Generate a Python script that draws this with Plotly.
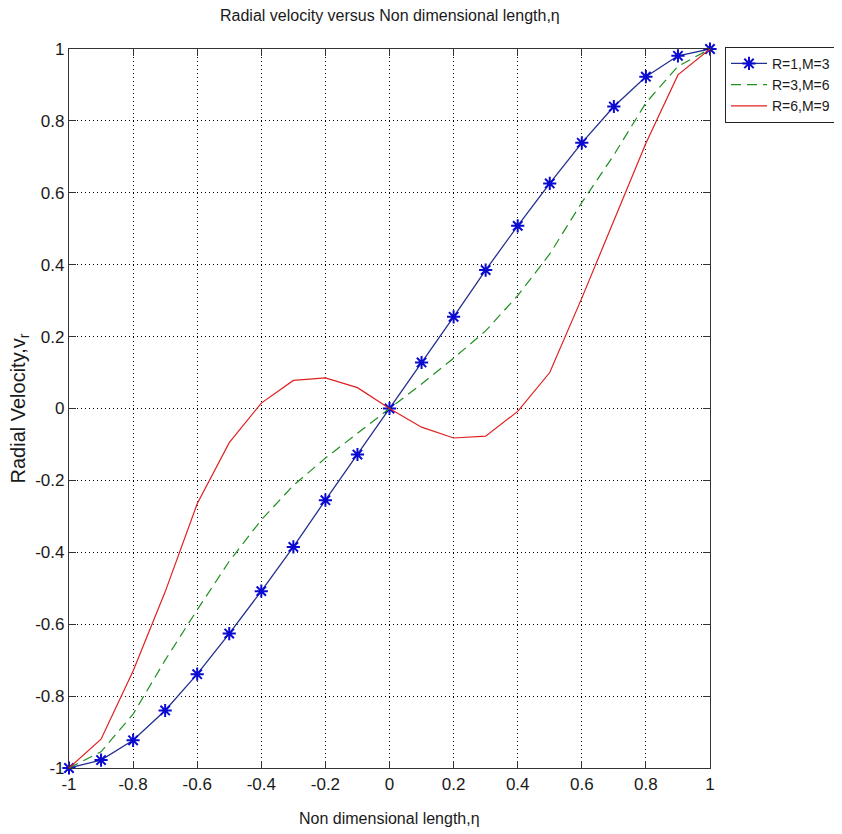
import plotly.graph_objects as go

eta = [-1.0, -0.9, -0.8, -0.7, -0.6, -0.5, -0.4, -0.3, -0.2, -0.1, 0.0,
       0.1, 0.2, 0.3, 0.4, 0.5, 0.6, 0.7, 0.8, 0.9, 1.0]

v_r1_m3 = [-1.0, -0.978, -0.923, -0.84, -0.739, -0.626, -0.508, -0.385, -0.255, -0.128, 0.0,
           0.128, 0.255, 0.385, 0.508, 0.626, 0.739, 0.84, 0.923, 0.981, 1.0]
v_r3_m6 = [-1.0, -0.955, -0.85, -0.7, -0.56, -0.425, -0.31, -0.214, -0.138, -0.068, 0.0,
           0.068, 0.14, 0.216, 0.314, 0.43, 0.573, 0.705, 0.85, 0.952, 1.0]
v_r6_m9 = [-1.0, -0.92, -0.73, -0.51, -0.265, -0.095, 0.015, 0.078, 0.085, 0.058, 0.0,
           -0.052, -0.082, -0.077, -0.008, 0.1, 0.307, 0.524, 0.738, 0.928, 1.0]

series_names = ["R=1,M=3", "R=3,M=6", "R=6,M=9"]
tick_vals = [-1, -0.8, -0.6, -0.4, -0.2, 0, 0.2, 0.4, 0.6, 0.8, 1]
tick_text = ["-1", "-0.8", "-0.6", "-0.4", "-0.2", "0", "0.2", "0.4", "0.6", "0.8", "1"]

FONT = "Liberation Sans, Arial, sans-serif"
TXT = "#1a1a1a"

fig = go.Figure()
fig.add_trace(go.Scatter(
    x=eta, y=v_r1_m3, name=series_names[0], mode="lines+markers",
    line=dict(color="#23308f", width=1.3),
    marker=dict(symbol="asterisk-open", size=11, color="#0a0ad0",
                line=dict(width=2, color="#0a0ad0")),
    cliponaxis=False))
fig.add_trace(go.Scatter(
    x=eta, y=v_r3_m6, name=series_names[1], mode="lines",
    line=dict(color="#1f8f1f", width=1.2, dash="10px,6px"),
    cliponaxis=False))
fig.add_trace(go.Scatter(
    x=eta, y=v_r6_m9, name=series_names[2], mode="lines",
    line=dict(color="#e02020", width=1.2),
    cliponaxis=False))

axis_common = dict(
    range=[-1, 1], tickvals=tick_vals, ticktext=tick_text,
    showgrid=True, gridcolor="#000000", griddash="1px,3px", gridwidth=1,
    showline=True, linecolor="#333333", linewidth=1.2, mirror="ticks",
    ticks="inside", ticklen=7, tickcolor="#333333",
    zeroline=False, tickfont=dict(family=FONT, size=17, color=TXT),
)

fig.update_layout(
    width=834, height=826,
    margin=dict(l=61, r=132, t=41, b=66, autoexpand=False),
    paper_bgcolor="white", plot_bgcolor="white",
    xaxis=dict(**axis_common),
    yaxis=dict(**axis_common),
    showlegend=True,
    legend=dict(x=1.0234, y=1.003, xanchor="left", yanchor="top",
                bgcolor="white", bordercolor="#222222", borderwidth=1,
                font=dict(family=FONT, size=14, color=TXT),
                itemwidth=36, tracegroupgap=0),
    annotations=[
        dict(text="Radial velocity versus Non dimensional length,η",
             xref="paper", yref="paper", x=0.5, y=1.0, yshift=34,
             xanchor="center", yanchor="middle",
             showarrow=False, font=dict(family=FONT, size=16, color=TXT)),
        dict(text="Non dimensional length,η",
             xref="paper", yref="paper", x=0.5, y=0.0, yshift=-50,
             xanchor="center", yanchor="middle",
             showarrow=False, font=dict(family=FONT, size=16, color=TXT)),
        dict(text="Radial Velocity,v<sub>r</sub>",
             xref="paper", yref="paper", x=0.0, y=0.5, xshift=-50, textangle=-90,
             xanchor="center", yanchor="middle",
             showarrow=False, font=dict(family=FONT, size=20, color=TXT)),
    ],
)

fig.write_html("out.html")
